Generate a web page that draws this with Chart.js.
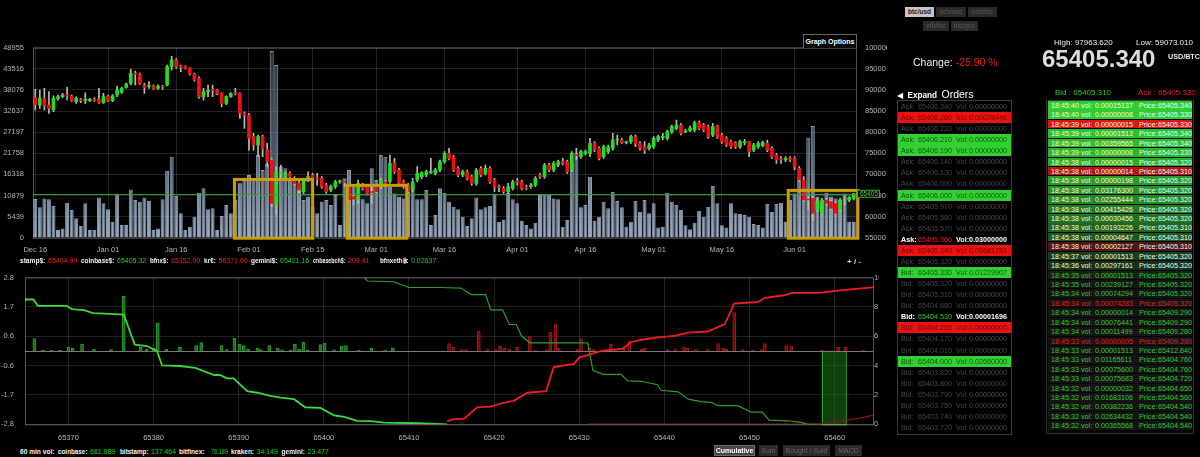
<!DOCTYPE html>
<html>
<head>
<meta charset="utf-8">
<title>btc/usd</title>
<script src="https://cdn.jsdelivr.net/npm/chart.js"></script>
<style>
html, body { margin: 0; padding: 0; background: #000; }
body { position: relative; width: 1200px; height: 457px; overflow: hidden; font-family: "Liberation Sans", Arial, sans-serif; color: #e8e8e8; }
.abs { position: absolute; white-space: nowrap; }
.lbl { font-weight: bold; color: #f2f2f2; }
.up { color: #22cc22; }
.dn { color: #ee2020; }
.btn { position: absolute; height: 10px; line-height: 10px; font-size: 6.5px; text-align: center; background: #2a2a2a; color: #5a5a5a; }
.btn.on { background: #c4c4c4; color: #1a1a1a; font-weight: bold; }
.bbtn { position: absolute; top: 445px; height: 11px; line-height: 11px; font-size: 7px; text-align: center; background: #2b2b2b; color: #646464; }
.bbtn.on { background: #454545; color: #fff; font-weight: bold; box-shadow: inset 0 0 0 1px #6a6a6a; }
#book { position: absolute; left: 897px; top: 100px; width: 113px; height: 333px; border: 1px solid #3a3a3a; }
.brow { position: absolute; left: 0; right: 0; height: 11.07px; line-height: 11px; font-size: 7.2px; color: #464646; }
.brow span { position: absolute; top: 0; }
.brow.red { background: #e81414; color: #7a0000; }
.brow.green { background: #33d033; color: #0a560a; }
.brow.hi { color: #fff; font-weight: bold; }
#trades { position: absolute; left: 1046px; top: 100px; width: 146px; height: 332px; border: 1px solid #333; background: #050505; }
.trow { position: absolute; left: 1px; right: 1px; height: 8.5px; line-height: 9px; font-size: 7.2px; }
.trow span { position: absolute; top: 0; }
.strip { position: absolute; font-size: 7px; line-height: 11px; white-space: nowrap; transform-origin: left center; }
.strip.lbl { font-size: 6.6px; }
</style>
</head>
<body>

<div class="abs" style="left:0;top:0;width:887px;height:260px"><canvas id="priceChart"></canvas></div>
<div class="abs" style="left:0;top:262px;width:879px;height:184px"><canvas id="depthChart"></canvas></div>

<div class="abs" style="left:803px;top:34px;width:52px;height:13px;border:1px solid #666;border-bottom:none;background:#000;font-size:7px;font-weight:bold;line-height:13px;text-align:center;color:#fff">Graph Options</div>
<div class="abs" style="left:847px;top:256px;font-size:8px;font-weight:bold;line-height:12px;color:#ddd">+ / -</div>

<div id="exchangeLine"></div>
<div id="volLine"></div>

<div class="bbtn on" style="left:714px;width:41px">Cumulative</div>
<div class="bbtn" style="left:759px;width:19px">Sum</div>
<div class="bbtn" style="left:783px;width:47px">Bought / Sold</div>
<div class="bbtn" style="left:835px;width:27px">MACD</div>

<div class="btn on" style="left:905px;top:7px;width:29px">btc/usd</div>
<div class="btn" style="left:936px;top:7px;width:30px">bch/usd</div>
<div class="btn" style="left:968px;top:7px;width:29px">bch/btc</div>
<div class="btn" style="left:923px;top:21px;width:26px">eth/btc</div>
<div class="btn" style="left:951px;top:21px;width:27px">btc/gbp</div>

<div class="abs" style="left:913px;top:56px;font-size:10.5px;line-height:12px;color:#f0f0f0">Change: <span class="dn">-25.90 %</span></div>
<div class="abs" style="left:1054px;top:38px;font-size:8px;line-height:10px;color:#eee">High: 97963.620</div>
<div class="abs" style="left:1136px;top:38px;font-size:8px;line-height:10px;color:#eee">Low: 59073.010</div>
<div class="abs" style="left:1168px;top:52px;font-size:7.2px;font-weight:bold;line-height:10px;color:#eee">USD/BTC</div>
<div class="abs" style="left:1042px;top:45px;font-size:24px;font-weight:bold;line-height:28px;color:#dcdcdc">65405.340</div>
<div class="abs" style="left:897px;top:87px;line-height:12px;color:#fff"><span style="font-size:7.5px">&#9664;</span> <span style="font-size:8.2px;font-weight:bold">Expand</span> <span style="font-size:10.5px">Orders</span></div>
<div class="abs up" style="left:1055px;top:88px;font-size:8px;line-height:10px">Bid : 65405.310</div>
<div class="abs dn" style="left:1138px;top:88px;font-size:8px;line-height:10px">Ask : 65405.320</div>

<div id="book"></div>
<div id="trades"></div>

<script>
// daily candles, USD (Dec 16 .. Jun 14)
const candleOpen = [
  88160, 86420, 87920, 86420, 85240, 87920, 88400, 88790, 88550, 87210,
  87610, 87600, 87450, 87760, 87760, 86980, 88550, 87450, 88790, 89420,
  90600, 91550, 93900, 93760, 91160, 90800, 90900, 90370, 90800, 91160,
  95500, 97080, 95500, 95500, 95100, 93760, 92740, 88400, 89600, 89970,
  89900, 89190, 86820, 88400, 89190, 89190, 84450, 84050, 78920, 76950,
  78920, 75760, 73400, 62740, 70240, 69050, 70240, 69050, 67870, 65900,
  69000, 69840, 69050, 69050, 67470, 66290, 67080, 68260, 68260, 67080,
  64710, 63920, 67470, 67080, 65900, 67080, 67080, 68260, 68260, 72610,
  71030, 68260, 67470, 66290, 68660, 69450, 69840, 70400, 70240, 71030,
  73000, 74970, 74190, 71420, 69840, 70630, 69450, 67870, 71420, 70240,
  71420, 68660, 67080, 66690, 65900, 66690, 68260, 68260, 66900, 67080,
  67470, 69840, 69450, 72210, 71030, 72210, 73000, 73000, 71030, 74580,
  74190, 74970, 74970, 77340, 76160, 74190, 75370, 76160, 78130, 78130,
  77500, 77740, 78920, 77340, 76550, 76160, 76550, 78130, 78700, 78530,
  80110, 80900, 81690, 80100, 80340, 80500, 82240, 81690, 81290, 79320,
  81450, 79320, 78530, 77740, 77500, 76550, 77500, 77740, 75760, 76550,
  76790, 77340, 76160, 74580, 73600, 73400, 73700, 73790, 71420, 68660,
  64100, 64320, 61550, 60760, 63920, 63530, 63130, 61550, 63900, 63920,
  64320
];
const candleHigh = [
  90130, 89970, 90370, 89580, 88630, 88790, 89180, 90610, 88790, 88390,
  88000, 89340, 88000, 88160, 90370, 89190, 88800, 88900, 90920, 90700,
  91600, 94870, 94480, 94000, 91550, 91950, 91200, 91200, 91160, 95900,
  97960, 97400, 95900, 95700, 95300, 94000, 93130, 90370, 91160, 91160,
  90100, 89340, 88600, 89400, 90370, 89340, 84840, 84450, 79710, 79320,
  79320, 77340, 73790, 71820, 72210, 70630, 70630, 69450, 68660, 69050,
  70630, 70240, 70240, 69450, 67870, 67470, 68660, 68660, 68460, 67470,
  65110, 68660, 67870, 67470, 67470, 67470, 69050, 68660, 74580, 73790,
  71420, 68660, 67870, 69050, 71820, 70630, 71030, 73790, 71420, 73400,
  75370, 76160, 74580, 71820, 71030, 71030, 69840, 71420, 71820, 72210,
  71820, 69050, 67470, 67080, 67870, 68660, 69050, 68660, 67470, 67870,
  69450, 70240, 72610, 72610, 73000, 73400, 73790, 73400, 75370, 76160,
  75760, 75760, 78530, 77740, 76550, 76950, 76950, 79710, 79320, 78530,
  77900, 79320, 79320, 77740, 77740, 77340, 78920, 79320, 79710, 80500,
  81690, 82870, 82080, 80700, 81450, 82630, 82630, 82080, 81690, 82080,
  81690, 79710, 78920, 78130, 77740, 78130, 78300, 77740, 77340, 77740,
  77900, 78130, 76550, 74970, 74190, 74190, 74190, 74190, 71820, 69450,
  64710, 64710, 64320, 64320, 64320, 63920, 63530, 64320, 64710, 64710,
  65500
];
const candleLow = [
  85240, 85630, 85240, 84450, 84840, 87600, 88160, 87610, 87210, 86820,
  86980, 86820, 87210, 87300, 86820, 86820, 87200, 87200, 88400, 89200,
  90400, 91160, 91160, 91300, 89190, 90370, 90100, 90100, 90130, 90920,
  94700, 95100, 94300, 94900, 93500, 92100, 88000, 87600, 88400, 88400,
  88900, 86030, 86500, 88200, 88800, 83260, 80900, 75760, 75760, 74190,
  74190, 71820, 62340, 60370, 69050, 68660, 69050, 67470, 65500, 65500,
  68260, 68660, 67470, 66690, 65500, 65900, 66690, 67870, 67080, 63530,
  62740, 63130, 66290, 65110, 63130, 65500, 66690, 67470, 67870, 70240,
  67470, 66690, 65500, 65900, 68260, 69050, 69450, 70240, 69840, 70630,
  72610, 73400, 70630, 69450, 69450, 68660, 67470, 67470, 69450, 69840,
  67870, 65900, 65900, 65500, 65110, 66290, 67470, 66290, 66290, 66690,
  67080, 69050, 69050, 70630, 70630, 71820, 72210, 70240, 70630, 73400,
  73790, 74580, 74190, 75370, 73400, 73790, 74970, 75760, 76950, 77340,
  77200, 77340, 76550, 75760, 74970, 75760, 76160, 77740, 78130, 78130,
  79710, 80500, 79320, 79900, 80110, 80110, 80500, 80110, 78530, 78920,
  78530, 77340, 76550, 76160, 76160, 76160, 77000, 74190, 75370, 76160,
  76550, 75370, 73790, 72610, 72610, 73000, 73000, 71030, 68260, 63530,
  61550, 59080, 61150, 60370, 62740, 61550, 60370, 61150, 62740, 63530,
  63920
];
const candleClose = [
  86420, 88000, 86190, 85630, 88000, 88400, 88790, 88630, 87450, 88000,
  87450, 87680, 87760, 87600, 86900, 88400, 87450, 88630, 89970, 90370,
  91400, 93920, 93750, 91550, 90600, 90900, 90370, 90920, 90700, 95500,
  97080, 95500, 95400, 95100, 93760, 92340, 88400, 89580, 89900, 89900,
  89190, 86820, 88400, 89190, 89100, 84450, 84000, 78530, 76950, 78920,
  76160, 73000, 63130, 70630, 70400, 70240, 69450, 67870, 66290, 68660,
  69450, 69050, 68900, 67080, 65900, 67080, 68260, 68400, 68100, 63920,
  64100, 67870, 66690, 65500, 65700, 65900, 68660, 67870, 72610, 70630,
  67870, 67080, 65900, 68260, 70240, 70400, 70630, 70630, 71030, 73000,
  74970, 73790, 71030, 69840, 70630, 69050, 67870, 71030, 69840, 71420,
  68260, 67080, 66900, 65900, 67080, 68260, 68100, 66690, 66690, 67470,
  69050, 69450, 72210, 71030, 72610, 73000, 72610, 70630, 74970, 74400,
  75370, 75370, 77340, 75760, 73790, 76550, 76550, 78130, 78300, 77500,
  77600, 78920, 77340, 76160, 75760, 76950, 78530, 78920, 78900, 80110,
  81290, 81690, 79710, 80300, 81050, 82240, 80900, 80500, 78920, 81290,
  78920, 77740, 76950, 76550, 76550, 77740, 77700, 75370, 76950, 77340,
  77580, 75760, 74190, 73400, 73400, 73790, 73600, 71820, 68660, 63920,
  63920, 60760, 63530, 63920, 63130, 61950, 60760, 63920, 64100, 64550,
  65410
];
const candleVolume = [
  9960, 7820, 10130, 9880, 8160, 1980, 2400, 9020, 7130, 4980,
  3010, 8850, 1980, 1980, 10390, 8850, 7300, 4120, 11420, 3260,
  3260, 12450, 9710, 9280, 10390, 9450, 1980, 2400, 9880, 17260,
  20870, 10740, 6270, 1980, 2830, 5410, 11600, 12710, 7300, 7560,
  1980, 5580, 8420, 6270, 9710, 14000, 14860, 16150, 14860, 21300,
  17440, 19150, 48100, 44490, 18290, 17870, 14860, 14000, 13140, 9710,
  10560, 7990, 6270, 9280, 9710, 8420, 10990, 3260, 15290, 17440,
  13140, 10560, 9880, 8850, 17870, 14860, 21300, 20870, 13140, 11420,
  10560, 10130, 13570, 13570, 9880, 9880, 12280, 3260, 5840, 12710,
  11600, 9280, 7990, 7300, 5410, 3010, 4980, 10390, 7300, 7820,
  8160, 11420, 4120, 4720, 11600, 9880, 8850, 4380, 3260, 2400,
  3870, 11250, 11250, 11250, 10130, 9880, 2830, 4550, 19150, 21730,
  7820, 8420, 15720, 4380, 5410, 9280, 7560, 11850, 9450, 7820,
  2830, 4120, 9530, 6700, 9710, 6270, 8850, 2660, 2830, 11600,
  9280, 8420, 7130, 3180, 2150, 3870, 6960, 5410, 7990, 13310,
  8850, 3180, 2660, 8850, 6270, 6100, 5840, 5410, 3520, 3260,
  2660, 8670, 6610, 8670, 9020, 4120, 9710, 11420, 15720, 13140,
  25770, 28770, 10560, 9710, 11600, 10560, 10130, 9710, 11420, 4120,
  4120
];

const dateTickDays = [0, 16, 31, 47, 61, 75, 90, 106, 121, 136, 151, 167];
const dateTickNames = ['Dec 16', 'Jan 01', 'Jan 16', 'Feb 01', 'Feb 15', 'Mar 01', 'Mar 16', 'Apr 01', 'Apr 16', 'May 01', 'May 16', 'Jun 01'];
const volumeTicks = [0, 5439, 10879, 16318, 21758, 27197, 32637, 38076, 43516, 48955];
const lastPrice = 65405;

// highlighted ranges on the price chart (day from, day to, top price)
const zoneFrom = [43.8, 68.6, 165.6];
const zoneTo = [61.0, 81.7, 180.9];
const zoneTop = [68800, 67400, 66200];

// order depth, last 100 USD around the spread
const depthTicks = [65370, 65380, 65390, 65400, 65410, 65420, 65430, 65440, 65450, 65460];
const depthLeftTicks = [-2.8, -1.68, -0.56, 0.56, 1.68, 2.8];

const buyDepthPrice = [65364.9, 65365.9, 65366.4, 65369.8, 65370.4, 65371.8, 65372.9, 65374.9, 65376.5, 65377.8, 65379.2, 65380.4, 65381.0, 65383.1, 65384.9, 65387.1, 65387.8, 65388.6, 65389.4, 65391.0, 65392.2, 65393.7, 65394.9, 65396.5, 65397.8, 65399.6, 65401.2, 65402.4, 65403.9, 65405.5, 65407.1, 65411.0, 65414.5];
const buyDepthSize = [8.5, 8.5, 8.07, 8.07, 7.85, 7.78, 7.57, 7.52, 7.47, 5.43, 5.33, 5.0, 4.01, 3.97, 3.84, 3.36, 3.36, 3.13, 3.13, 2.26, 2.15, 1.93, 1.82, 1.71, 1.16, 1.12, 0.61, 0.5, 0.24, 0.21, 0.11, 0.07, 0.0];

const buyDepth2Price = [65404.4, 65405.1, 65408.2, 65410.0, 65413.7, 65416.1, 65417.3, 65419.0, 65419.6, 65421.0, 65421.8, 65422.6, 65423.2, 65424.2, 65431.0, 65431.6, 65432.8, 65434.9, 65435.7, 65437.3, 65439.2, 65439.6, 65441.6, 65442.8, 65444.3, 65445.5, 65446.3, 65448.6, 65450.2, 65451.5, 65452.3, 65454.5, 65456.2, 65456.8, 65458.5];
const buyDepth2Size = [10.3, 9.76, 9.71, 9.32, 9.32, 9.28, 8.84, 8.84, 7.8, 7.8, 6.8, 6.8, 6.03, 5.55, 5.55, 3.68, 3.4, 3.4, 2.96, 2.93, 2.7, 2.32, 2.21, 1.71, 1.55, 1.5, 1.27, 1.27, 0.83, 0.83, 0.28, 0.24, 0.11, 0.0, 0.0];

const sellDepthPrice = [65414.5, 65415.1, 65416.5, 65418.0, 65419.6, 65421.0, 65422.3, 65423.9, 65426.1, 65427.0, 65429.4, 65430.0, 65431.0, 65432.6, 65435.1, 65436.1, 65437.3, 65439.2, 65441.2, 65442.8, 65445.1, 65447.1, 65448.2, 65451.0, 65451.8, 65454.1, 65455.0, 65458.1, 65461.2, 65464.7];
const sellDepthSize = [0.22, 0.33, 0.39, 1.16, 1.2, 1.45, 1.6, 2.15, 2.26, 3.9, 4.12, 4.56, 4.71, 5.0, 5.15, 5.59, 5.76, 5.92, 6.03, 6.25, 6.32, 6.82, 8.22, 8.33, 8.62, 8.79, 8.95, 8.95, 9.16, 9.34];

const sellDepth2Price = [65431.0, 65458.0, 65459.9, 65461.5, 65462.8, 65464.5];
const sellDepth2Size = [0.02, 0.02, 0.11, 0.28, 0.4, 0.61];

const buyBarPrice = [65366.0, 65367.0, 65368.0, 65369.0, 65370.0, 65370.5, 65371.6, 65373.0, 65375.0, 65376.5, 65378.5, 65379.2, 65380.0, 65380.5, 65381.5, 65383.1, 65385.0, 65385.6, 65388.0, 65388.6, 65389.5, 65390.1, 65390.6, 65391.1, 65392.2, 65392.6, 65393.6, 65394.6, 65395.1, 65396.1, 65396.6, 65397.1, 65397.6, 65398.1, 65399.6, 65400.1, 65401.2, 65402.1, 65402.6, 65404.1, 65405.6, 65407.2, 65408.1];
const buyBarSize = [0.47, 0.02, 0.02, 0.02, 0.14, 0.1, 0.26, 0.07, 0.05, 2.08, 0.14, 0.07, 0.1, 1.06, 0.07, 0.14, 0.2, 0.32, 0.2, 0.05, 0.48, 0.26, 0.2, 0.07, 0.1, 0.05, 0.2, 0.1, 0.04, 0.04, 0.26, 0.07, 0.33, 0.04, 0.24, 0.3, 0.04, 0.18, 0.2, 0.03, 0.1, 0.03, 0.12];

const sellBarPrice = [65414.7, 65415.2, 65416.2, 65416.7, 65418.2, 65419.2, 65420.2, 65420.7, 65421.2, 65421.8, 65422.7, 65424.2, 65424.9, 65426.2, 65426.6, 65427.2, 65427.6, 65429.8, 65430.2, 65431.2, 65431.7, 65433.7, 65434.3, 65435.2, 65435.9, 65437.3, 65437.7, 65440.4, 65441.3, 65442.3, 65442.7, 65443.7, 65445.1, 65446.3, 65446.9, 65447.3, 65448.2, 65449.2, 65450.4, 65451.4, 65451.8, 65454.3, 65454.9, 65458.5, 65460.4, 65461.3, 65463.4];
const sellBarSize = [0.28, 0.14, 0.05, 0.05, 0.75, 0.05, 0.05, 0.17, 0.1, 0.07, 0.14, 0.57, 0.03, 0.05, 0.71, 1.02, 0.1, 0.07, 0.47, 0.1, 0.05, 0.26, 0.07, 0.1, 0.38, 0.07, 0.1, 0.05, 0.05, 0.15, 0.1, 0.05, 0.05, 0.28, 0.1, 0.07, 1.46, 0.05, 0.03, 0.05, 0.28, 0.2, 0.17, 0.03, 0.14, 0.14, 0.03];

const spreadFrom = 65458.5;
const spreadTo = 65461.3;

// ticker strip
const exchangeNames = ['stamp$:', 'coinbase$:', 'bfnx$:', 'kr€:', 'gemini$:', 'cnbasebch$:', 'bfnxeth฿:'];
const exchangePrices = ['65404.99', '65405.32', '65352.00', '56371.00', '65421.16', '209.41', '0.02637'];
const exchangeUp = [false, true, false, false, true, false, true];
const volNames = ['coinbase:', 'bitstamp:', 'bitfinex:', 'kraken:', 'gemini:'];
const volValues = ['681.889', '137.464', '78.189', '34.149', '23.477'];

// order book
const bookSide = ['Ask', 'Ask', 'Ask', 'Ask', 'Ask', 'Ask', 'Ask', 'Ask', 'Ask', 'Ask', 'Ask', 'Ask', 'Ask', 'Ask', 'Ask',
  'Bid', 'Bid', 'Bid', 'Bid', 'Bid', 'Bid', 'Bid', 'Bid', 'Bid', 'Bid', 'Bid', 'Bid', 'Bid', 'Bid', 'Bid'];
const bookPrice = ['65406.340', '65406.280', '65406.220', '65406.210', '65406.190', '65406.140', '65406.130', '65406.090', '65406.000', '65405.970', '65405.580', '65405.570', '65405.360', '65405.340', '65405.320',
  '65405.330', '65405.320', '65405.310', '65404.680', '65404.530', '65404.250', '65404.170', '65404.010', '65404.000', '65403.820', '65403.800', '65403.790', '65403.750', '65403.740', '65403.720'];
const bookVol = ['0.00000000', '0.00078446', '0.00000000', '0.00000000', '0.00000000', '0.00000000', '0.00000000', '0.00000000', '0.00000000', '0.00000000', '0.00000000', '0.00000000', '0.03000000', '0.06681781', '0.00000000',
  '0.01229907', '0.00000000', '0.00000000', '0.00000000', '0.00001696', '0.00000000', '0.00000000', '0.00000000', '0.02660000', '0.00000000', '0.00000000', '0.00000000', '0.00000000', '0.00000000', '0.00000000'];
const bookMark = ['', 'red', '', 'green', 'green', '', '', '', 'green', '', '', '', 'hi', 'red', '',
  'green', '', '', '', 'hi', 'red', '', '', 'green', '', '', '', '', '', ''];

// recent trades
const tradeTime = ['18:45:40', '18:45:40', '18:45:39', '18:45:39', '18:45:39', '18:45:39', '18:45:38', '18:45:38', '18:45:38', '18:45:38', '18:45:38', '18:45:38', '18:45:38', '18:45:38', '18:45:38', '18:45:38', '18:45:37', '18:45:36', '18:45:35', '18:45:35', '18:45:34', '18:45:34', '18:45:34', '18:45:34', '18:45:34', '18:45:33', '18:45:33', '18:45:33', '18:45:33', '18:45:33', '18:45:32', '18:45:32', '18:45:32', '18:45:32', '18:45:32'];
const tradeVol = ['0.00015137', '0.00000008', '0.00000015', '0.00001513', '0.00359565', '0.00000008', '0.00000015', '0.00000014', '0.00000198', '0.03176300', '0.02255444', '0.00415426', '0.00030456', '0.00193226', '0.00004647', '0.00002127', '0.00001513', '0.00297161', '0.00001513', '0.00239127', '0.00074294', '0.00074283', '0.00000014', '0.00076441', '0.00011499', '0.00000005', '0.00001513', '0.01165611', '0.00075600', '0.00075683', '0.00000032', '0.01683106', '0.00382236', '0.02634432', '0.00365568'];
const tradePrice = ['65405.340', '65405.330', '65405.330', '65405.340', '65405.340', '65405.330', '65405.320', '65405.310', '65405.320', '65405.320', '65405.320', '65405.320', '65405.320', '65405.310', '65405.310', '65405.310', '65405.320', '65405.320', '65405.320', '65405.320', '65405.320', '65405.320', '65409.290', '65409.290', '65409.280', '65409.280', '65412.640', '65404.760', '65404.760', '65404.720', '65404.650', '65404.560', '65404.540', '65404.540', '65404.540'];
const tradeBuy = [true, true, false, true, true, true, true, false, true, true, true, true, true, true, true, false, true, true, true, true, true, false, true, true, true, false, true, true, true, true, true, true, true, true, true];

// ---------- charts ----------
Chart.defaults.font.family = '"Liberation Sans", Arial, sans-serif';
const TICK_COLOR = '#b4b4b4';
const GRID = 'rgba(255,255,255,0.13)';
const tickFont = { size: 7.5 };

const dayIndex = candleClose.map((_, i) => i);

function volumeFill(ctx) {
  const area = ctx.chart.chartArea;
  if (!area) return 'rgba(140,160,185,0.8)';
  const g = ctx.chart.ctx.createLinearGradient(0, area.top, 0, area.bottom);
  g.addColorStop(0, 'rgba(45,54,68,0.95)');
  g.addColorStop(0.55, 'rgba(92,108,130,0.95)');
  g.addColorStop(1, 'rgba(160,180,205,0.97)');
  return g;
}

const priceOverlay = {
  id: 'priceOverlay',
  beforeDatasetsDraw(chart) {
    const { ctx, chartArea: a, scales: { x, yP } } = chart;
    ctx.save();
    ctx.fillStyle = 'rgba(255,255,255,0.09)';
    zoneFrom.forEach((from, i) => {
      const l = x.getPixelForValue(from);
      const r = x.getPixelForValue(zoneTo[i]);
      const t = yP.getPixelForValue(zoneTop[i]);
      ctx.fillRect(l, t, r - l, a.bottom - t);
    });
    ctx.restore();
  },
  afterDatasetsDraw(chart) {
    const { ctx, chartArea: a, scales: { x, yP } } = chart;
    ctx.save();
    // last price line
    const py = Math.round(yP.getPixelForValue(lastPrice)) + 0.5;
    ctx.strokeStyle = '#2f9a2f';
    ctx.lineWidth = 1;
    ctx.beginPath();
    ctx.moveTo(a.left, py);
    ctx.lineTo(a.right, py);
    ctx.stroke();
    // outline
    ctx.strokeStyle = 'rgba(255,255,255,0.32)';
    ctx.strokeRect(a.left + 0.5, a.top + 0.5, a.right - a.left, a.bottom - a.top);
    // zone frames
    ctx.strokeStyle = '#c9a000';
    ctx.lineWidth = 3;
    zoneFrom.forEach((from, i) => {
      const l = x.getPixelForValue(from);
      const r = x.getPixelForValue(zoneTo[i]);
      const t = yP.getPixelForValue(zoneTop[i]);
      ctx.strokeRect(l, t, r - l, a.bottom + 0.5 - t);
    });
    ctx.restore();
  },
  afterDraw(chart) {
    const { ctx, chartArea: a, scales: { yP } } = chart;
    const py = yP.getPixelForValue(lastPrice);
    ctx.save();
    ctx.fillStyle = '#000';
    ctx.fillRect(a.right + 1, py - 4, 23, 8);
    ctx.strokeStyle = '#30b030';
    ctx.lineWidth = 1;
    ctx.strokeRect(a.right + 1.5, py - 3.5, 22, 7);
    ctx.fillStyle = '#3bd03b';
    ctx.font = '6.5px "Liberation Sans", Arial, sans-serif';
    ctx.textBaseline = 'middle';
    ctx.fillText(String(lastPrice), a.right + 4, py + 0.5);
    ctx.restore();
  }
};

new Chart(document.getElementById('priceChart'), {
  type: 'bar',
  data: {
    labels: dayIndex.map(String),
    datasets: [
      {
        label: 'Volume',
        data: candleVolume,
        yAxisID: 'yV',
        backgroundColor: volumeFill,
        borderColor: 'rgba(178,196,216,0.8)',
        borderWidth: 1,
        barPercentage: 1,
        categoryPercentage: 0.88,
        grouped: false,
        order: 3
      },
      {
        label: 'Range',
        data: dayIndex.map(i => [candleLow[i], candleHigh[i]]),
        yAxisID: 'yP',
        backgroundColor: '#b9b9b9',
        barThickness: 1,
        grouped: false,
        order: 2
      },
      {
        label: 'Body',
        data: dayIndex.map(i => [candleOpen[i], candleClose[i]]),
        yAxisID: 'yP',
        backgroundColor: dayIndex.map(i => candleClose[i] >= candleOpen[i] ? '#22dd22' : '#ee1111'),
        barThickness: 3,
        minBarLength: 1,
        grouped: false,
        order: 1
      }
    ]
  },
  options: {
    responsive: true,
    maintainAspectRatio: false,
    animation: false,
    events: [],
    layout: { padding: { top: 47.7, left: 0, right: 0, bottom: 0 } },
    plugins: { legend: { display: false }, tooltip: { enabled: false } },
    scales: {
      x: {
        type: 'category',
        offset: true,
        border: { display: false },
        grid: {
          offset: false,
          drawTicks: false,
          color: c => dateTickDays.includes(c.index) ? GRID : 'rgba(0,0,0,0)'
        },
        ticks: {
          autoSkip: false,
          maxRotation: 0,
          minRotation: 0,
          padding: 8,
          color: TICK_COLOR,
          font: tickFont,
          callback: (v, i) => {
            const k = dateTickDays.indexOf(i);
            return k < 0 ? '' : dateTickNames[k];
          }
        },
        afterFit: s => { s.height = 22.3; }
      },
      yV: {
        position: 'left',
        min: 0,
        max: 48955,
        border: { display: false },
        grid: { color: GRID, drawTicks: false },
        afterBuildTicks: s => { s.ticks = volumeTicks.map(v => ({ value: v })); },
        ticks: { padding: 9, color: TICK_COLOR, font: tickFont, callback: v => String(v) },
        afterFit: s => { s.width = 33; }
      },
      yP: {
        position: 'right',
        min: 55000,
        max: 100000,
        border: { display: false },
        grid: { display: false, drawTicks: false },
        ticks: { stepSize: 5000, padding: 9, color: TICK_COLOR, font: tickFont, callback: v => String(v) },
        afterFit: s => { s.width = 31; }
      }
    }
  },
  plugins: [priceOverlay]
});

const depthOverlay = {
  id: 'depthOverlay',
  beforeDatasetsDraw(chart) {
    const { ctx, chartArea: a, scales: { x, yL } } = chart;
    ctx.save();
    const l = x.getPixelForValue(spreadFrom);
    const r = x.getPixelForValue(spreadTo);
    const t = yL.getPixelForValue(0);
    ctx.fillStyle = 'rgba(30,130,30,0.5)';
    ctx.fillRect(l, t, r - l, a.bottom - t);
    ctx.strokeStyle = '#2fb02f';
    ctx.lineWidth = 1;
    ctx.strokeRect(l + 0.5, t + 0.5, r - l, a.bottom - t);
    ctx.strokeStyle = '#7a7a7a';
    ctx.beginPath();
    ctx.moveTo(a.left, Math.round(t) + 0.5);
    ctx.lineTo(a.right, Math.round(t) + 0.5);
    ctx.stroke();
    ctx.restore();
  },
  afterDatasetsDraw(chart) {
    const { ctx, chartArea: a } = chart;
    ctx.save();
    ctx.strokeStyle = 'rgba(255,255,255,0.32)';
    ctx.lineWidth = 1;
    ctx.strokeRect(a.left + 0.5, a.top + 0.5, a.right - a.left, a.bottom - a.top);
    ctx.restore();
  }
};

const pts = (xs, ys) => xs.map((v, i) => ({ x: v, y: ys[i] }));

new Chart(document.getElementById('depthChart'), {
  type: 'bar',
  data: {
    datasets: [
      {
        type: 'line', label: 'bids', data: pts(buyDepthPrice, buyDepthSize), yAxisID: 'yR',
        borderColor: '#3ad83a', borderWidth: 1.8, pointRadius: 0, tension: 0, order: 1
      },
      {
        type: 'line', label: 'bids 2', data: pts(buyDepth2Price, buyDepth2Size), yAxisID: 'yR',
        borderColor: '#2a9e2a', borderWidth: 1.2, pointRadius: 0, tension: 0, order: 2
      },
      {
        type: 'line', label: 'asks', data: pts(sellDepthPrice, sellDepthSize), yAxisID: 'yR',
        borderColor: '#f01e1e', borderWidth: 1.8, pointRadius: 0, tension: 0, order: 1
      },
      {
        type: 'line', label: 'asks 2', data: pts(sellDepth2Price, sellDepth2Size), yAxisID: 'yR',
        borderColor: '#8c1414', borderWidth: 1.2, pointRadius: 0, tension: 0, order: 2
      },
      {
        label: 'bought', data: pts(buyBarPrice, buyBarSize), yAxisID: 'yL',
        backgroundColor: 'rgba(28,105,28,0.9)', borderColor: '#2a9a2a', borderWidth: 1,
        barThickness: 3, grouped: false, order: 4
      },
      {
        label: 'sold', data: pts(sellBarPrice, sellBarSize), yAxisID: 'yL',
        backgroundColor: 'rgba(115,10,10,0.92)', borderColor: '#a81414', borderWidth: 1,
        barThickness: 3, grouped: false, order: 4
      }
    ]
  },
  options: {
    responsive: true,
    maintainAspectRatio: false,
    animation: false,
    events: [],
    layout: { padding: { top: 10.3, left: 0, right: 0, bottom: 0 } },
    plugins: { legend: { display: false }, tooltip: { enabled: false } },
    scales: {
      x: {
        type: 'linear',
        offset: false,
        min: 65364.9,
        max: 65464.5,
        border: { display: false },
        grid: { color: GRID, drawTicks: false, offset: false },
        afterBuildTicks: s => { s.ticks = depthTicks.map(v => ({ value: v })); },
        ticks: { padding: 9, color: TICK_COLOR, font: tickFont, callback: v => String(v) },
        afterFit: s => { s.height = 21.7; }
      },
      yL: {
        position: 'left',
        min: -2.8,
        max: 2.8,
        border: { display: false },
        grid: { color: GRID, drawTicks: false },
        afterBuildTicks: s => { s.ticks = depthLeftTicks.map(v => ({ value: v })); },
        ticks: { padding: 11, color: TICK_COLOR, font: tickFont, callback: v => v.toFixed(1) },
        afterFit: s => { s.width = 25; }
      },
      yR: {
        position: 'right',
        min: 0,
        max: 10,
        border: { display: false },
        grid: { display: false, drawTicks: false },
        ticks: { stepSize: 2, padding: 1, color: TICK_COLOR, font: tickFont },
        afterFit: s => { s.width = 6; }
      }
    }
  },
  plugins: [depthOverlay]
});

// ---------- text panels ----------
// place a piece of strip text and squeeze it into the room it has
function strip(parent, text, cls, x, y, room) {
  const d = document.createElement('div');
  d.className = 'strip ' + cls;
  d.style.left = x + 'px';
  d.style.top = y + 'px';
  d.textContent = text;
  parent.appendChild(d);
  const w = d.getBoundingClientRect().width;
  if (room && w > room) d.style.transform = `scaleX(${(room / w).toFixed(3)})`;
}

const exchangeLabelX = [20, 81, 150, 204, 251, 313, 380];
const exchangeValueX = [48, 117, 171, 218.5, 280, 348, 411];
const exLine = document.getElementById('exchangeLine');
exchangeNames.forEach((name, i) => {
  strip(exLine, name, 'lbl', exchangeLabelX[i], 255, exchangeValueX[i] - exchangeLabelX[i] - 2.5);
  const next = i + 1 < exchangeLabelX.length ? exchangeLabelX[i + 1] : 440;
  strip(exLine, exchangePrices[i], exchangeUp[i] ? 'up' : 'dn', exchangeValueX[i], 255, next - exchangeValueX[i] - 3);
});

const volLabelX = [58, 120, 179, 231, 281.5];
const volValueX = [90, 151, 211, 256.5, 307.5];
const vLine = document.getElementById('volLine');
strip(vLine, '60 min vol:', 'lbl', 20, 445.5, 35);
volNames.forEach((name, i) => {
  strip(vLine, name, 'lbl', volLabelX[i], 445.5, volValueX[i] - volLabelX[i] - 2.5);
  const next = i + 1 < volLabelX.length ? volLabelX[i + 1] : 340;
  strip(vLine, volValues[i], 'up', volValueX[i], 445.5, next - volValueX[i] - 3);
});

const book = document.getElementById('book');
bookSide.forEach((side, i) => {
  const row = document.createElement('div');
  const mark = bookMark[i];
  row.className = 'brow' + (mark ? ' ' + mark : '');
  row.style.top = (i * 11.07) + 'px';
  let priceStyle = '';
  if (mark === 'hi') priceStyle = side === 'Ask' ? 'color:#ee2020;font-weight:normal' : 'color:#2fd02f;font-weight:normal';
  row.innerHTML = `<span style="left:3px">${side}:</span><span style="left:20px;${priceStyle}">${bookPrice[i]}</span>` +
    `<span style="left:58px">Vol:</span><span style="left:71px">${bookVol[i]}</span>`;
  book.appendChild(row);
});

const trades = document.getElementById('trades');
tradeTime.forEach((t, i) => {
  const row = document.createElement('div');
  row.className = 'trow';
  row.style.top = (i * 9.42) + 'px';
  const fade = Math.max(0, 1 - Math.pow(i / 19, 1.5));
  const rgb = tradeBuy[i] ? '48,205,48' : '232,20,20';
  row.style.background = fade > 0
    ? `linear-gradient(rgba(${rgb},${fade.toFixed(3)}), rgba(${rgb},${fade.toFixed(3)})), #141414`
    : '#141414';
  row.style.color = fade > 0.1 ? '#eaffea' : (tradeBuy[i] ? '#34c834' : '#e02020');
  row.innerHTML = `<span style="left:3px">${t}</span><span style="left:33px">vol:</span>` +
    `<span style="left:47px">${tradeVol[i]}</span><span style="left:91px">Price:</span>` +
    `<span style="left:110px">${tradePrice[i]}</span>`;
  trades.appendChild(row);
});
</script>
</body>
</html>
